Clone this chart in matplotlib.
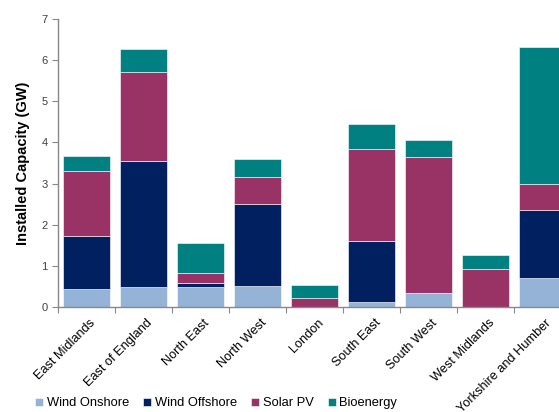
import numpy as np
import matplotlib
matplotlib.use("Agg")
from matplotlib import pyplot as plt

plt.rcParams['font.family'] = ['Liberation Sans', 'DejaVu Sans']

regions = ["East Midlands", "East of England", "North East", "North West", "London",
           "South East", "South West", "West Midlands", "Yorkshire and Humber"]
wind_onshore = [0.44, 0.48, 0.48, 0.51, 0.01, 0.12, 0.33, 0.01, 0.70]
wind_offshore = [1.29, 3.06, 0.10, 1.99, 0.00, 1.49, 0.00, 0.00, 1.66]
solar_pv = [1.57, 2.17, 0.25, 0.65, 0.22, 2.22, 3.31, 0.91, 0.63]
bioenergy = [0.36, 0.57, 0.73, 0.44, 0.31, 0.62, 0.41, 0.35, 3.33]

series = [("Wind Onshore", wind_onshore, "#95B3D7"),
          ("Wind Offshore", wind_offshore, "#002060"),
          ("Solar PV", solar_pv, "#993366"),
          ("Bioenergy", bioenergy, "#008080")]

fig = plt.figure(figsize=(5.59, 4.12), dpi=100)
ax = fig.add_axes([0.1038, 0.2549, 0.9177, 0.699])

x = np.arange(len(regions))
bottom = np.zeros(len(regions))
for name, vals, col in series:
    vals = np.array(vals)
    ax.bar(x, vals, bottom=bottom, width=0.82, color=col, label=name,
           edgecolor="white", linewidth=0.4)
    bottom += vals

ax.set_xlim(-0.5, len(regions) - 0.5)
ax.set_ylim(0, 7)
ax.set_yticks(range(8))
ax.tick_params(axis='y', labelsize=8, labelcolor="#404040", color="#888888",
               length=4, width=0.8)

# category boundary ticks, labels at centres
ax.set_xticks(np.arange(-0.5, len(regions), 1.0))
ax.set_xticklabels([])
ax.tick_params(axis='x', which='major', color="#888888", length=4, width=0.8)
ax.set_xticks(x + 0.05, minor=True)
ax.set_xticklabels(regions, minor=True, rotation=45, ha='right',
                   rotation_mode='anchor', fontsize=9.2)
ax.tick_params(axis='x', which='minor', length=0, pad=7)

for s in ["top", "right"]:
    ax.spines[s].set_visible(False)
for s in ["left", "bottom"]:
    ax.spines[s].set_color("#888888")
    ax.spines[s].set_linewidth(1.0)

ax.set_ylabel("Installed Capacity (GW)", fontsize=10.5, fontweight='bold', labelpad=8)

fig.legend(loc='lower left', bbox_to_anchor=(0.042, -0.022), ncol=4, frameon=False,
           fontsize=9.3, handlelength=0.6, handleheight=0.6, handletextpad=0.3,
           columnspacing=1.1)

fig.savefig("out.png", dpi=100)
